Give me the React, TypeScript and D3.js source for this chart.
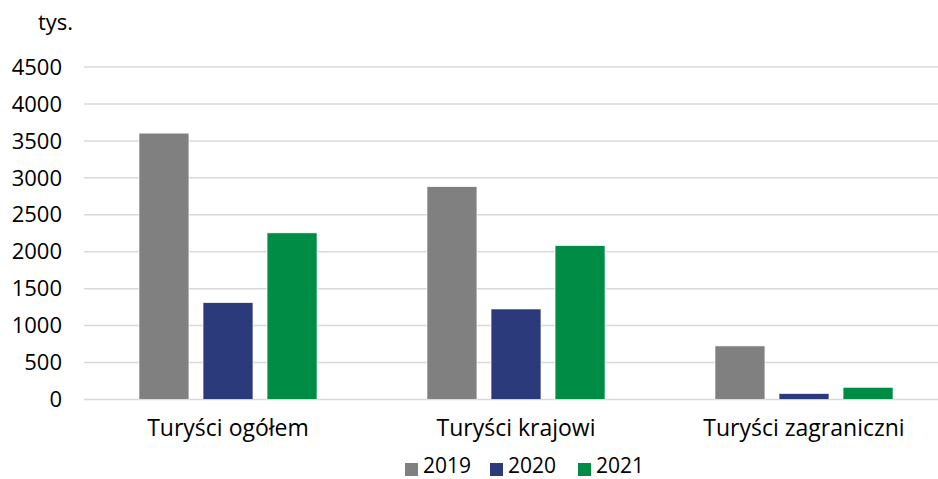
import React from "react";
import * as d3 from "d3";

const categories = ["Turyści ogółem", "Turyści krajowi", "Turyści zagraniczni"];
const years = ["2019", "2020", "2021"];
const values2019 = [3605, 2880, 725];
const values2020 = [1310, 1225, 80];
const values2021 = [2255, 2082, 165];
const yTicks = [0, 500, 1000, 1500, 2000, 2500, 3000, 3500, 4000, 4500];
const colors = ["#808080", "#2B3A7B", "#008C44"];

const W = 938;
const H = 479;
const FONT = "'Open Sans', 'Noto Sans', sans-serif";

export default function App() {
    const series = [values2019, values2020, values2021];

    const x = d3.scaleBand().domain(categories).range([84, 948]);
    const inner = d3.scaleBand().domain(years).range([55, 233]).paddingInner(0.22);
    const y = d3.scaleLinear().domain([0, 4500]).range([399.5, 67]);

    return (
        <svg width={W} height={H} style={{ position: "absolute", left: 0, top: 0 }} fontFamily={FONT}>
            {/* grid */}
            {yTicks.map((t) => (
                <g key={t}>
                    <line x1={84} x2={W} y1={y(t)} y2={y(t)} stroke="#d9d9d9" strokeWidth={1.5} />
                    <text x={62} y={y(t)} dy="0.35em" textAnchor="end" fontSize={22} fill="#000">
                        {t}
                    </text>
                </g>
            ))}
            <text x={38} y={30} fontSize={22} fill="#000">tys.</text>

            {/* bars */}
            {categories.map((c, i) => (
                <g key={c} transform={`translate(${x(c)},0)`}>
                    {years.map((yr, j) => (
                        <rect
                            key={yr}
                            x={inner(yr)}
                            y={y(series[j][i])}
                            width={inner.bandwidth()}
                            height={y(0) - y(series[j][i])}
                            fill={colors[j]}
                            stroke="#fff"
                            strokeWidth={0.6}
                        />
                    ))}
                    <text x={x.bandwidth() / 2} y={436} textAnchor="middle" fontSize={23} fill="#000">
                        {c}
                    </text>
                </g>
            ))}

            {/* legend */}
            {years.map((yr, j) => {
                const lx = [405, 490, 578][j];
                return (
                    <g key={yr}>
                        <rect x={lx} y={463} width={13} height={13} fill={colors[j]} />
                        <text x={lx + 18} y={473} fontSize={21} fill="#000">{yr}</text>
                    </g>
                );
            })}
        </svg>
    );
}
